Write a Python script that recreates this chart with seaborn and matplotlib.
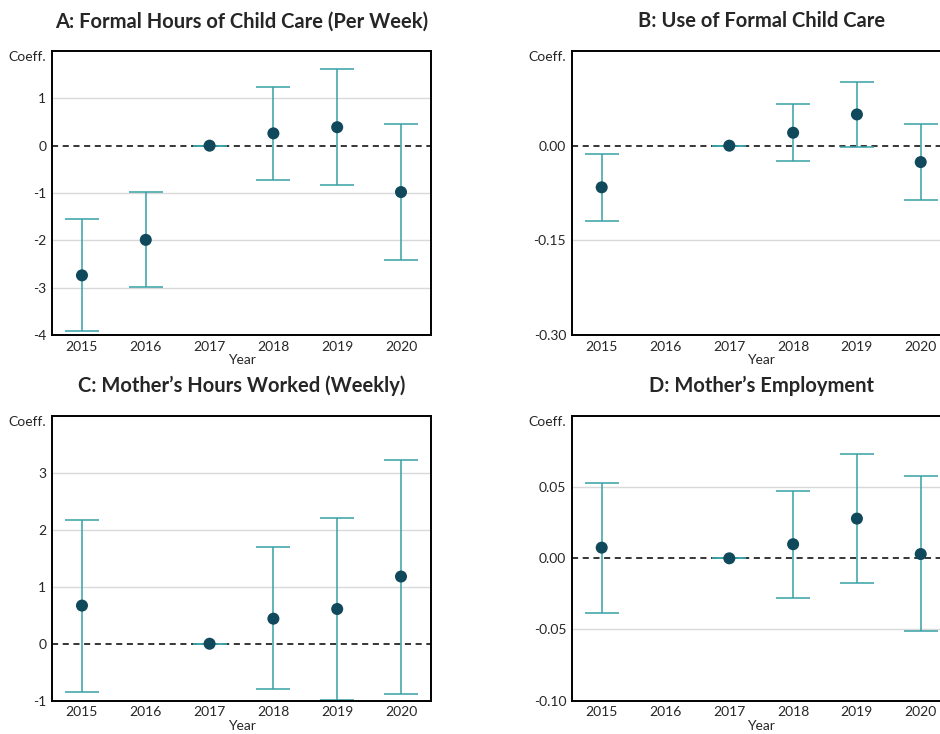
"""Event-study coefficient plots, four panels."""

import numpy as np
import pandas as pd
import seaborn as sns
import matplotlib.pyplot as plt

sns.set_theme(style="white")
plt.rcParams['font.family'] = ['Lato', 'DejaVu Sans']

years = [2015, 2016, 2017, 2018, 2019, 2020]

# A: formal hours of child care (per week)
a_coef = [-2.74, -1.99, 0.0, 0.26, 0.39, -0.98]
a_low = [-3.92, -2.99, 0.0, -0.72, -0.83, -2.42]
a_high = [-1.55, -0.98, 0.0, 1.24, 1.61, 0.46]

# B: use of formal child care (2016 missing)
b_coef = [-0.066, np.nan, 0.0, 0.0205, 0.0495, -0.026]
b_low = [-0.119, np.nan, 0.0, -0.0243, -0.0027, -0.0853]
b_high = [-0.0137, np.nan, 0.0, 0.0657, 0.101, 0.0336]

# C: mother's hours worked (weekly)
c_coef = [0.67, np.nan, 0.0, 0.44, 0.61, 1.18]
c_low = [-0.84, np.nan, 0.0, -0.80, -0.98, -0.88]
c_high = [2.18, np.nan, 0.0, 1.70, 2.21, 3.23]

# D: mother's employment
d_coef = [0.0075, np.nan, 0.0, 0.0099, 0.0279, 0.003]
d_low = [-0.0383, np.nan, 0.0, -0.028, -0.0172, -0.0514]
d_high = [0.0532, np.nan, 0.0, 0.0476, 0.0732, 0.0575]

titles = ["A: Formal Hours of Child Care (Per Week)",
          "B: Use of Formal Child Care",
          "C: Mother\u2019s Hours Worked (Weekly)",
          "D: Mother\u2019s Employment"]
ylims = [(-4, 2), (-0.30, 0.15), (-1, 4), (-0.10, 0.10)]
yticks = [[-4, -3, -2, -1, 0, 1], [-0.30, -0.15, 0.00], [-1, 0, 1, 2, 3],
          [-0.10, -0.05, 0.00, 0.05]]
yfmt = ["{:.0f}", "{:.2f}", "{:.0f}", "{:.2f}"]

panels = [(a_coef, a_low, a_high), (b_coef, b_low, b_high),
          (c_coef, c_low, c_high), (d_coef, d_low, d_high)]

POINT = "#10485c"
BAR = "#36a0a4"

fig = plt.figure(figsize=(9.4, 7.34), dpi=100)
rects = [[0.0553, 0.5436, 0.4032, 0.3869], [0.6082, 0.5436, 0.4032, 0.3869],
         [0.0553, 0.0454, 0.4032, 0.3879], [0.6082, 0.0454, 0.4032, 0.3879]]

for i, (coef, low, high) in enumerate(panels):
    ax = fig.add_axes(rects[i])
    df = pd.DataFrame({"year": years, "coef": coef, "low": low, "high": high}).dropna()
    for y in yticks[i]:
        if y != 0:
            ax.axhline(y, color="#d9d9d9", lw=1, zorder=0)
    ax.axhline(0, color="black", lw=1.1, ls=(0, (4, 3)), zorder=1)
    ax.errorbar(df["year"], df["coef"],
                yerr=[df["coef"] - df["low"], df["high"] - df["coef"]],
                fmt="none", ecolor=BAR, elinewidth=1.1, capsize=12, capthick=1.1, zorder=2)
    sns.scatterplot(data=df, x="year", y="coef", ax=ax, color=POINT, s=75,
                    edgecolor="none", zorder=3)
    ax.set_xlim(2014.53, 2020.47)
    ax.set_ylim(*ylims[i])
    ax.set_xticks(years)
    ax.set_xticklabels([str(y) for y in years], fontsize=10)
    ax.set_yticks(yticks[i])
    ax.set_yticklabels([yfmt[i].format(v) for v in yticks[i]], fontsize=10)
    ax.tick_params(length=0, pad=4)
    ax.set_xlabel("Year", fontsize=10, labelpad=1)
    ax.set_ylabel("")
    for s in ax.spines.values():
        s.set_color("black")
        s.set_linewidth(1.4)
    ax.text(-0.015, 1.0, "Coeff.", transform=ax.transAxes, ha="right", va="top", fontsize=10)
    ax.set_title(titles[i], fontsize=14.5, fontweight="bold", pad=17)

fig.savefig("out.png", dpi=100)
